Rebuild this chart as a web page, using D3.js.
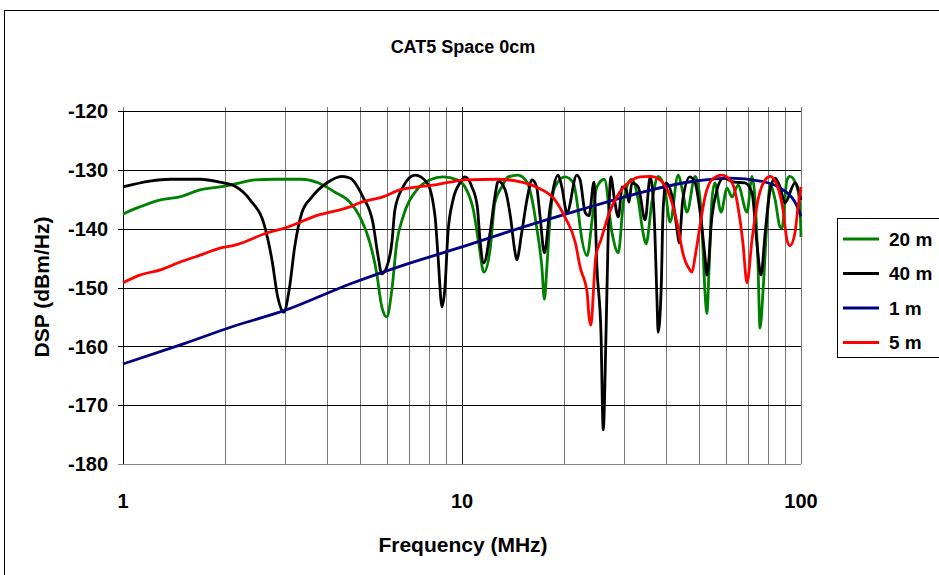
<!DOCTYPE html>
<html>
<head>
<meta charset="utf-8">
<script src="https://cdn.jsdelivr.net/npm/d3@7"></script>
<style>
  body { margin: 0; background: #fff; }
  svg { display: block; font-family: "Liberation Sans", Arial, sans-serif; font-weight: bold; }
</style>
</head>
<body>
<svg id="chart" width="939" height="575"></svg>
<script>
// frequency (MHz) / DSP (dBm/Hz)
var freq20 = [1.00,1.12,1.29,1.47,1.69,1.93,2.14,2.45,2.80,3.37,3.76,4.22,4.67,5.00,5.35,5.60,5.80,6.00,6.21,6.42,6.70,7.36,8.05,8.79,9.67,
  10.2,10.8,11.2,11.6,12.1,12.5,13.1,13.7,14.6,15.6,16.1,16.6,17.2,17.5,17.8,18.2,18.8,20.1,21.3,22.0,22.3,23.4,24.2,25.0,26.3,27.7,28.9,30.0,31.7,33.1,34.2,34.9,36.4,37.9,39.7,41.1,43.4,44.8,46.1,48.7,
  50.3,51.4,52.1,52.8,53.5,54.6,55.7,58.1,60.5,62.6,65.2,69.3,71.7,73.2,74.7,75.7,77.4,79.5,81.1,83.9,86.7,87.9,90.9,92.8,97.3,99.3,100];
var dsp20 = [-137.5,-136.3,-135.1,-134.6,-133.4,-132.9,-132.4,-131.7,-131.6,-131.6,-132.2,-133.8,-135.5,-138.0,-142.4,-147.5,-153.3,-155.0,-150.4,-142.4,-138.0,-133.4,-131.7,-131.2,-131.7,
  -132.9,-136.8,-142.4,-147.4,-143.6,-135.6,-132.9,-131.2,-130.9,-132.2,-135.1,-139.7,-146.5,-152.0,-146.5,-138.0,-132.9,-131.2,-132.2,-136.8,-139.7,-144.6,-138.5,-132.9,-131.6,-140.7,-144.1,-135.1,-131.6,-135.1,-140.7,-142.6,-135.1,-131.1,-133.4,-138.9,-130.9,-133.8,-137.2,-131.1,
  -134.6,-143.6,-150.9,-154.4,-147.5,-135.1,-132.2,-137.2,-133.1,-134.6,-132.6,-137.2,-131.1,-135.1,-146.5,-156.9,-149.9,-138.0,-132.6,-135.1,-139.7,-139.9,-131.7,-131.1,-132.9,-136.3,-141.4];

var freq40 = [1.00,1.20,1.38,1.69,1.93,2.14,2.37,2.62,2.75,2.86,2.98,3.10,3.21,3.37,3.61,4.00,4.42,4.67,5.10,5.46,5.65,5.80,6.00,6.21,6.34,6.70,7.27,7.89,8.33,8.50,8.73,8.91,9.09,9.41,9.87,
  10.2,10.7,11.1,11.3,11.6,12.1,12.5,12.8,13.4,13.9,14.3,14.5,15.0,15.6,16.1,16.6,17.0,17.5,18.2,19.2,19.7,20.4,21.8,22.3,23.1,23.7,24.5,25.0,25.7,26.1,26.6,27.0,27.5,28.1,28.9,29.7,30.5,31.1,31.7,33.1,34.7,35.9,36.9,37.6,37.9,38.7,39.2,40.0,41.7,43.1,43.7,44.8,47.0,48.7,
  50.3,52.1,52.8,54.6,56.5,59.0,63.8,68.3,71.7,74.1,76.2,78.4,81.1,83.9,86.7,89.7,96.0,100];
var dsp40 = [-132.9,-131.9,-131.6,-131.6,-132.1,-132.8,-135.1,-139.7,-145.3,-151.6,-154.2,-149.9,-143.1,-137.3,-134.6,-132.2,-131.1,-131.4,-134.6,-139.0,-144.5,-147.7,-146.5,-142.4,-136.8,-132.9,-130.9,-132.2,-138.0,-144.8,-153.3,-149.9,-140.7,-135.1,-132.2,
  -131.2,-132.9,-136.3,-141.9,-145.8,-140.7,-134.6,-131.9,-133.4,-138.0,-143.6,-145.3,-140.7,-134.6,-131.7,-132.9,-138.0,-144.1,-136.3,-130.9,-132.9,-137.3,-130.9,-131.7,-137.3,-137.8,-132.1,-146.5,-157.7,-174.2,-157.7,-140.7,-131.2,-134.6,-138.0,-132.9,-133.4,-135.5,-132.2,-132.9,-138.5,-131.2,-138.0,-152.1,-157.6,-149.9,-136.8,-132.2,-134.6,-140.2,-142.4,-135.1,-131.2,-132.2,
  -136.8,-144.8,-147.9,-138.0,-133.4,-131.4,-132.1,-132.2,-133.9,-142.4,-147.9,-140.7,-133.4,-131.4,-132.9,-135.6,-132.2,-135.1];

var freq1 = [1.00,1.47,2.14,3.00,4.67,6.56,10.0,14.8,22.3,33.5,48.7,61.8,75.7,86.7,96.0,100];
var dsp1 = [-163.0,-159.8,-156.5,-153.9,-149.4,-146.4,-143.1,-139.9,-136.8,-133.9,-131.9,-131.4,-131.9,-133.1,-135.5,-137.9];

var freq5 = [1.00,1.12,1.29,1.47,1.69,1.93,2.14,2.67,3.00,3.76,4.67,5.00,5.84,6.56,8.22,9.21,
  10.2,12.8,15.0,16.8,18.8,20.1,21.6,22.3,23.4,23.7,24.0,24.5,24.8,25.7,27.2,29.1,31.1,33.5,35.9,38.4,41.1,43.1,44.8,47.0,47.7,48.7,
  50.3,52.1,54.6,58.5,62.6,65.2,67.4,69.3,71.7,74.7,78.4,81.1,85.0,88.5,90.9,92.8,96.0,98.0,100];
var dsp5 = [-149.2,-147.9,-147.0,-145.7,-144.5,-143.3,-142.8,-140.7,-139.9,-137.7,-136.3,-135.6,-134.6,-133.4,-132.6,-132.1,
  -131.7,-131.6,-132.1,-133.1,-135.1,-138.0,-142.4,-146.5,-150.9,-155.0,-156.4,-149.2,-144.8,-141.9,-137.3,-133.9,-132.1,-131.2,-131.1,-131.7,-134.6,-139.0,-144.1,-147.0,-147.4,-144.8,
  -139.7,-134.6,-131.7,-130.9,-132.2,-136.3,-142.4,-149.2,-141.9,-135.1,-131.7,-131.1,-132.6,-136.8,-141.9,-142.9,-140.7,-136.3,-132.9];

var seriesNames = ["20 m", "40 m", "1 m", "5 m"];
var seriesColors = ["#008000", "#000000", "#000080", "#ff0000"];
var seriesFreq = [freq20, freq40, freq1, freq5];
var seriesDsp = [dsp20, dsp40, dsp1, dsp5];

var yTicks = [-120, -130, -140, -150, -160, -170, -180];
var xTicks = [1, 10, 100];
var xMinor = [2,3,4,5,6,7,8,9,20,30,40,50,60,70,80,90];

var svg = d3.select("#chart");
var margin = {top: 111, right: 138, bottom: 111, left: 123};
var width = 939 - margin.left - margin.right,
    height = 575 - margin.top - margin.bottom;

// outer chart frame (runs off the right and bottom edge)
svg.append("rect")
  .attr("x", 4.5).attr("y", 10.5)
  .attr("width", 960).attr("height", 600)
  .attr("fill", "#fff").attr("stroke", "#000").attr("stroke-width", 1);

var x = d3.scaleLog().domain([1, 100]).range([0, width]);
var y = d3.scaleLinear().domain([-180, -120]).range([height, 0]);

var g = svg.append("g").attr("transform", "translate(" + margin.left + "," + margin.top + ")");

// vertical gridlines
g.append("g")
  .selectAll("line")
  .data(xMinor.concat(xTicks))
  .enter().append("line")
    .attr("x1", function(d) { return Math.round(x(d)) + 0.5; })
    .attr("x2", function(d) { return Math.round(x(d)) + 0.5; })
    .attr("y1", -4)
    .attr("y2", height)
    .attr("stroke", function(d) { return d == 10 ? "#222" : "#777"; })
    .attr("stroke-width", 1);

// horizontal gridlines + y ticks
g.append("g")
  .selectAll("line")
  .data(yTicks)
  .enter().append("line")
    .attr("x1", -5)
    .attr("x2", width)
    .attr("y1", function(d) { return Math.round(y(d)) + 0.5; })
    .attr("y2", function(d) { return Math.round(y(d)) + 0.5; })
    .attr("stroke", function(d) { return d == -180 ? "#888" : "#000"; })
    .attr("stroke-width", 1);

// left axis line
g.append("line")
  .attr("x1", 0.5).attr("x2", 0.5)
  .attr("y1", 0).attr("y2", height)
  .attr("stroke", "#000");

// y labels
g.append("g")
  .selectAll("text")
  .data(yTicks)
  .enter().append("text")
    .attr("x", -15)
    .attr("y", function(d) { return y(d); })
    .attr("dy", "0.36em")
    .attr("text-anchor", "end")
    .attr("font-size", 20)
    .text(function(d) { return d; });

// x labels
g.append("g")
  .selectAll("text")
  .data(xTicks)
  .enter().append("text")
    .attr("x", function(d) { return x(d); })
    .attr("y", height + 44)
    .attr("text-anchor", "middle")
    .attr("font-size", 20)
    .text(function(d) { return d; });

// series
var line = d3.line()
  .x(function(d) { return x(d[0]); })
  .y(function(d) { return y(d[1]); })
  .curve(d3.curveMonotoneX);

seriesNames.forEach(function(name, i) {
  var pts = seriesFreq[i].map(function(f, j) { return [f, seriesDsp[i][j]]; });
  g.append("path")
    .datum(pts)
    .attr("fill", "none")
    .attr("stroke", seriesColors[i])
    .attr("stroke-width", 2.8)
    .attr("stroke-linejoin", "round")
    .attr("d", line);
});

// title and axis titles
svg.append("text")
  .attr("x", 463).attr("y", 53)
  .attr("text-anchor", "middle")
  .attr("font-size", 18)
  .text("CAT5 Space 0cm");

svg.append("text")
  .attr("x", 463).attr("y", 552)
  .attr("text-anchor", "middle")
  .attr("font-size", 21)
  .text("Frequency (MHz)");

svg.append("text")
  .attr("transform", "translate(49,287) rotate(-90)")
  .attr("text-anchor", "middle")
  .attr("font-size", 21)
  .text("DSP (dBm/Hz)");

// legend
var legend = svg.append("g").attr("transform", "translate(837,218)");
legend.append("rect")
  .attr("x", 0.5).attr("y", 0.5)
  .attr("width", 120).attr("height", 139)
  .attr("fill", "#fff").attr("stroke", "#000");

var item = legend.selectAll(".item")
  .data(seriesNames)
  .enter().append("g")
    .attr("class", "item")
    .attr("transform", function(d, i) { return "translate(0," + (21 + i * 34.5) + ")"; });
item.append("line")
  .attr("x1", 6).attr("x2", 42)
  .attr("stroke", function(d, i) { return seriesColors[i]; })
  .attr("stroke-width", 2.8);
item.append("text")
  .attr("x", 52)
  .attr("dy", "0.36em")
  .attr("font-size", 19)
  .text(function(d) { return d; });
</script>
</body>
</html>
